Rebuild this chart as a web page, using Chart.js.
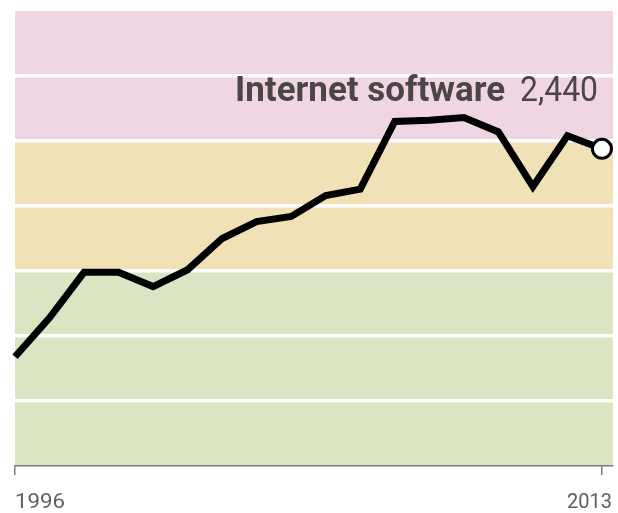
<!DOCTYPE html>
<html>
<head>
<meta charset="utf-8">
<script src="https://cdn.jsdelivr.net/npm/chart.js@4.4.0/dist/chart.umd.min.js"></script>
<style>
html,body{margin:0;padding:0;background:#fff;}
#c{display:block;}
</style>
</head>
<body>
<canvas id="c" width="618" height="513"></canvas>
<script>
// ---- data ----
const years = [1996,1997,1998,1999,2000,2001,2002,2003,2004,2005,2006,2007,2008,2009,2010,2011,2012,2013];
const values = [840,1140,1490,1490,1380,1510,1750,1880,1920,2080,2130,2650,2660,2680,2570,2150,2540,2440];
const xTickYears = [1996, 2013];
const xTickLabels = ['1996', '2013'];
const yGridValues = [0,500,1000,1500,2000,2500,3000,3500];
const bandFrom = [0, 1500, 2500];
const bandTo = [1500, 2500, 3500];
const bandColors = ['#d9e5c3', '#f0e1b7', '#f0d5e3'];
const seriesName = 'Internet software';
const lastValueText = '2,440';

function fitText(ctx, text, x, y, targetW, align) {
  const w = ctx.measureText(text).width;
  const sx = targetW / w;
  ctx.save();
  ctx.translate(x, y);
  ctx.scale(sx, 1);
  ctx.textAlign = align;
  ctx.fillText(text, 0, 0);
  ctx.restore();
}

const bandsPlugin = {
  id: 'bands',
  beforeDraw(chart) {
    const {ctx, chartArea, scales} = chart;
    const y = scales.y;
    ctx.save();
    for (let i = 0; i < bandFrom.length; i++) {
      const top = y.getPixelForValue(bandTo[i]);
      const bot = y.getPixelForValue(bandFrom[i]);
      ctx.fillStyle = bandColors[i];
      ctx.fillRect(chartArea.left, top, chartArea.right - chartArea.left, bot - top);
    }
    ctx.restore();
  }
};

const textPlugin = {
  id: 'texts',
  afterDraw(chart) {
    const {ctx, scales} = chart;
    const x = scales.x;
    ctx.save();
    ctx.fillStyle = '#4a4547';
    ctx.textBaseline = 'alphabetic';
    ctx.font = 'bold 35px Roboto, "DejaVu Sans", sans-serif';
    fitText(ctx, seriesName, 505, 101, 270, 'right');
    ctx.font = '35px Roboto, "DejaVu Sans", sans-serif';
    fitText(ctx, lastValueText, 520, 101, 78, 'left');

    ctx.fillStyle = '#5e5e5e';
    ctx.font = '21px Roboto, "DejaVu Sans", sans-serif';
    for (let i = 0; i < xTickYears.length; i++) {
      const px = x.getPixelForValue(xTickYears[i]);
      if (i === 0) {
        fitText(ctx, xTickLabels[i], px, 508, 50, 'left');
      } else {
        fitText(ctx, xTickLabels[i], px + 10, 508, 45, 'right');
      }
    }
    ctx.restore();
  }
};

const lastIdx = years.length - 1;

new Chart(document.getElementById('c'), {
  type: 'line',
  data: {
    datasets: [{
      data: years.map((yr, i) => ({x: yr, y: values[i]})),
      borderColor: '#000',
      borderWidth: 7,
      borderJoinStyle: 'miter',
      borderCapStyle: 'butt',
      tension: 0,
      fill: false,
      clip: false,
      pointRadius: c => c.dataIndex === lastIdx ? 9.5 : 0,
      pointHoverRadius: c => c.dataIndex === lastIdx ? 9.5 : 0,
      pointBackgroundColor: '#fff',
      pointBorderColor: '#000',
      pointBorderWidth: 3
    }]
  },
  options: {
    responsive: false,
    animation: false,
    events: [],
    layout: {autoPadding: false, padding: {left: 15, top: 11, right: 5, bottom: 38}},
    plugins: {legend: {display: false}, tooltip: {enabled: false}},
    scales: {
      x: {
        type: 'linear',
        min: 1996,
        max: 2013.32,
        afterBuildTicks: s => { s.ticks = xTickYears.map(v => ({value: v})); },
        ticks: {display: false},
        grid: {drawOnChartArea: false, drawTicks: true, tickLength: 9, color: '#7a7a7a', lineWidth: 1.5},
        border: {display: true, color: '#7a7a7a', width: 1.5}
      },
      y: {
        min: 0,
        max: 3500,
        afterBuildTicks: s => { s.ticks = yGridValues.map(v => ({value: v})); },
        ticks: {display: false},
        grid: {
          drawTicks: false,
          lineWidth: 3.5,
          color: c => (c.tick && (c.tick.value === 0 || c.tick.value === 3500)) ? 'rgba(0,0,0,0)' : '#ffffff'
        },
        border: {display: false}
      }
    }
  },
  plugins: [bandsPlugin, textPlugin]
});
</script>
</body>
</html>
